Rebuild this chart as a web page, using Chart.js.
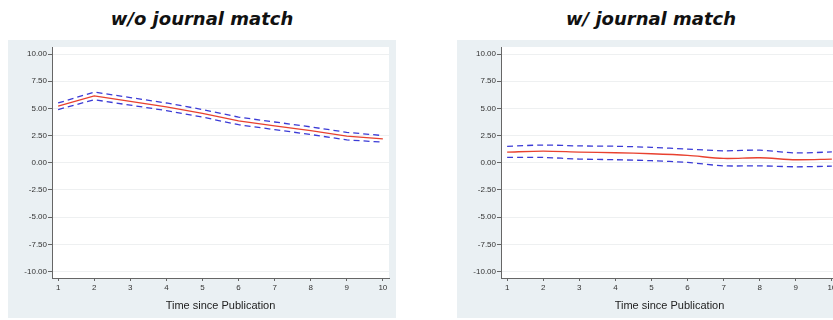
<!DOCTYPE html>
<html>
<head>
<meta charset="utf-8">
<script src="https://cdn.jsdelivr.net/npm/chart.js@4.4.0/dist/chart.umd.min.js"></script>
<style>
    html, body { margin: 0; padding: 0; background: #fff; }
    body { width: 833px; height: 320px; position: relative; overflow: hidden; }
    .title {
        position: absolute; top: 6px; width: 388px; text-align: center;
        font-family: "DejaVu Sans", sans-serif; font-weight: bold; font-style: italic;
        font-size: 18px; line-height: 26px; color: #111;
    }
    .panel { position: absolute; top: 40px; width: 388px; height: 278px; background: #eaf0f3; }
    .panel canvas { position: absolute; left: 0; top: 0; }
</style>
</head>
<body>
<div class="title" style="left:8px">w/o journal match</div>
<div class="title" style="left:457px">w/ journal match</div>
<div class="panel" style="left:8px"><canvas id="noMatch" width="388" height="278"></canvas></div>
<div class="panel" style="left:457px"><canvas id="withMatch" width="388" height="278"></canvas></div>

<script>
const periods = [1, 2, 3, 4, 5, 6, 7, 8, 9, 10];
const yTicks = [-10, -7.5, -5, -2.5, 0, 2.5, 5, 7.5, 10];

// w/o journal match
const noMatchEst   = [5.2, 6.15, 5.65, 5.15, 4.55, 3.85, 3.4, 2.95, 2.45, 2.2];
const noMatchUpper = [5.5, 6.5, 6.0, 5.5, 4.9, 4.2, 3.75, 3.3, 2.8, 2.5];
const noMatchLower = [4.9, 5.8, 5.3, 4.8, 4.2, 3.5, 3.05, 2.6, 2.1, 1.9];

// w/ journal match
const matchEst   = [0.98, 1.07, 0.98, 0.92, 0.83, 0.68, 0.4, 0.46, 0.28, 0.34];
const matchUpper = [1.51, 1.63, 1.55, 1.52, 1.42, 1.26, 1.1, 1.16, 0.91, 1.0];
const matchLower = [0.49, 0.49, 0.34, 0.28, 0.19, 0.03, -0.28, -0.28, -0.37, -0.31];

const tickFont = { family: "Liberation Sans, Arial, sans-serif", size: 8 };

// white plot region on the grey panel
const plotBackground = {
    id: "plotBackground",
    beforeDraw(chart) {
        const a = chart.chartArea;
        chart.ctx.save();
        chart.ctx.fillStyle = "#ffffff";
        chart.ctx.fillRect(a.left, a.top, a.right - a.left, a.bottom - a.top);
        chart.ctx.restore();
    }
};

function toPoints(values) {
    return periods.map((p, i) => ({ x: p, y: values[i] }));
}

function makeChart(id, est, upper, lower, tension) {
    const band = {
        borderColor: "#3b3bd6",
        borderWidth: 1.3,
        borderDash: [6, 4],
        pointRadius: 0,
        tension: tension,
        fill: false
    };

    return new Chart(document.getElementById(id).getContext("2d"), {
        type: "line",
        data: {
            datasets: [
                Object.assign({ data: toPoints(upper) }, band),
                Object.assign({ data: toPoints(lower) }, band),
                { data: toPoints(est), borderColor: "#e8412f", borderWidth: 1.3, pointRadius: 0, tension: tension }
            ]
        },
        plugins: [plotBackground],
        options: {
            responsive: false,
            animation: false,
            layout: { padding: { top: 7, right: 7, left: 0, bottom: 0 } },
            plugins: { legend: { display: false }, tooltip: { enabled: false } },
            scales: {
                x: {
                    type: "linear",
                    min: 0.83,
                    max: 10.17,
                    afterBuildTicks: s => { s.ticks = periods.map(v => ({ value: v })); },
                    afterFit: s => { s.height = 40; },
                    border: { color: "#666", width: 1 },
                    grid: { drawOnChartArea: false, tickLength: 3, tickColor: "#666" },
                    ticks: { font: tickFont, color: "#333", padding: 2, maxRotation: 0 },
                    title: {
                        display: true,
                        text: "Time since Publication",
                        font: { family: "Liberation Sans, Arial, sans-serif", size: 11 },
                        color: "#222",
                        padding: { top: 0, bottom: 5 }
                    }
                },
                y: {
                    min: -10.6,
                    max: 10.65,
                    afterBuildTicks: s => { s.ticks = yTicks.map(v => ({ value: v })); },
                    afterFit: s => { s.width = 44; },
                    border: { color: "#666", width: 1 },
                    grid: { color: "#eef0f1", tickLength: 4, tickColor: "#666" },
                    ticks: { font: tickFont, color: "#333", padding: 1, callback: v => v.toFixed(2) }
                }
            }
        }
    });
}

makeChart("noMatch", noMatchEst, noMatchUpper, noMatchLower, 0);
makeChart("withMatch", matchEst, matchUpper, matchLower, 0.3);
</script>
</body>
</html>
